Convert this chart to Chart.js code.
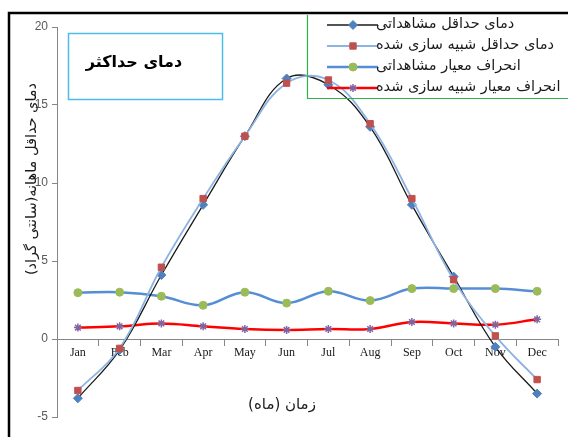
<!DOCTYPE html>
<html>
<head>
<meta charset="utf-8">
<script src="https://cdn.jsdelivr.net/npm/chart.js@4.4.1/dist/chart.umd.min.js"></script>
<style>
  html, body { margin: 0; padding: 0; background: #fff; }
  #wrap { width: 568px; height: 437px; position: relative; }
</style>
</head>
<body>
<div id="wrap"><canvas id="c" width="568" height="437"></canvas></div>
<script>
const months = ['Jan', 'Feb', 'Mar', 'Apr', 'May', 'Jun', 'Jul', 'Aug', 'Sep', 'Oct', 'Nov', 'Dec'];
const obsMin = [-3.8, -0.7, 4.1, 8.6, 13.0, 16.7, 16.3, 13.6, 8.6, 4.0, -0.5, -3.5];
const simMin = [-3.3, -0.6, 4.6, 9.0, 13.0, 16.4, 16.6, 13.8, 9.0, 3.8, 0.2, -2.6];
const obsStd = [2.97, 3.0, 2.74, 2.16, 3.0, 2.3, 3.06, 2.46, 3.23, 3.23, 3.23, 3.06];
const simStd = [0.73, 0.81, 1.0, 0.81, 0.64, 0.58, 0.64, 0.64, 1.09, 1.0, 0.92, 1.26];
const yTicks = [-5, 0, 5, 10, 15, 20];
const seriesNames = ['دمای حداقل مشاهداتی', 'دمای حداقل شبیه سازی شده', 'انحراف معیار مشاهداتی', 'انحراف معیار شبیه سازی شده'];
const chartTitle = 'دمای حداکثر';
const yTitle = 'دمای حداقل ماهانه(سانتی گراد)';
const xTitle = 'زمان (ماه)';

const persianFont = "'DejaVu Sans', sans-serif";

const styles = [
  { line: '#1a1a1a', lw: 1.3, pt: 'rectRot', pc: '#4f81bd', r: 4.5 },
  { line: '#8db3e2', lw: 1.8, pt: 'rect', pc: '#c0504d', r: 4.5 },
  { line: '#558ed5', lw: 2.5, pt: 'circle', pc: '#9bbb59', r: 4 },
  { line: '#ff0000', lw: 2.5, pt: 'star', pc: '#8064a2', r: 4 }
];
const seriesData = [obsMin, simMin, obsStd, simStd];
const orders = [1, 0, 2, 3];

const datasets = seriesData.map((d, i) => ({
  label: seriesNames[i],
  data: d,
  borderColor: styles[i].line,
  borderWidth: styles[i].lw,
  pointStyle: styles[i].pt,
  pointRadius: styles[i].r,
  pointBackgroundColor: styles[i].pc,
  pointBorderColor: styles[i].pc,
  pointBorderWidth: styles[i].pt === 'star' ? 1.5 : 1,
  tension: 0.4,
  fill: false,
  order: orders[i]
}));

const decor = {
  id: 'decor',
  afterDraw(chart) {
    const ctx = chart.ctx;
    ctx.save();
    // outer frame
    ctx.strokeStyle = '#000';
    ctx.lineWidth = 2.5;
    ctx.beginPath();
    ctx.moveTo(9, 437);
    ctx.lineTo(9, 13);
    ctx.lineTo(568, 13);
    ctx.stroke();

    // title box
    ctx.strokeStyle = '#4bbde8';
    ctx.lineWidth = 1.5;
    ctx.strokeRect(68.5, 33.5, 154, 66);
    ctx.fillStyle = '#000';
    ctx.font = 'bold 16px ' + persianFont;
    ctx.textAlign = 'center';
    ctx.textBaseline = 'middle';
    ctx.direction = 'rtl';
    ctx.fillText(chartTitle, 134, 63);

    // legend box
    ctx.strokeStyle = '#2eb24a';
    ctx.lineWidth = 1.2;
    ctx.beginPath();
    ctx.moveTo(307.5, 15);
    ctx.lineTo(307.5, 98.5);
    ctx.lineTo(568, 98.5);
    ctx.stroke();

    const rowsY = [25, 46, 67, 88];
    for (let i = 0; i < 4; i++) {
      const y = rowsY[i];
      ctx.strokeStyle = styles[i].line;
      ctx.lineWidth = styles[i].lw;
      ctx.beginPath();
      ctx.moveTo(327, y);
      ctx.lineTo(378, y);
      ctx.stroke();
      ctx.fillStyle = styles[i].pc;
      ctx.strokeStyle = styles[i].pc;
      ctx.lineWidth = styles[i].pt === 'star' ? 1.5 : 1;
      Chart.helpers.drawPoint(ctx, {
        pointStyle: styles[i].pt, radius: styles[i].r, rotation: 0,
        borderWidth: ctx.lineWidth
      }, 353, y);
      ctx.fillStyle = '#1a1a1a';
      ctx.font = '14.5px ' + persianFont;
      ctx.direction = 'rtl';
      ctx.textAlign = 'left';
      ctx.textBaseline = 'middle';
      ctx.fillText(seriesNames[i], 376, y - 1);
    }

    // y title
    ctx.save();
    ctx.translate(32, 179);
    ctx.rotate(-Math.PI / 2);
    ctx.font = '14.5px ' + persianFont;
    ctx.fillStyle = '#1a1a1a';
    ctx.textAlign = 'center';
    ctx.textBaseline = 'middle';
    ctx.direction = 'rtl';
    ctx.fillText(yTitle, 0, 0);
    ctx.restore();

    // x title
    ctx.font = '15px ' + persianFont;
    ctx.fillStyle = '#1a1a1a';
    ctx.textAlign = 'center';
    ctx.textBaseline = 'middle';
    ctx.direction = 'rtl';
    ctx.fillText(xTitle, 282, 405);
    ctx.restore();
  }
};

new Chart(document.getElementById('c'), {
  type: 'line',
  data: { labels: months, datasets },
  options: {
    responsive: false,
    animation: false,
    events: [],
    layout: { padding: { top: 27, right: 10, bottom: 20, left: 8 } },
    plugins: { legend: { display: false }, tooltip: { enabled: false } },
    scales: {
      x: {
        type: 'category',
        offset: true,
        position: { y: 0 },
        grid: { display: true, drawOnChartArea: false, drawTicks: true, tickLength: 6, color: '#868686', offset: true },
        border: { display: true, color: '#868686', width: 1 },
        ticks: { color: '#1a1a1a', font: { family: "'Liberation Serif', 'Times New Roman', serif", size: 12 }, padding: 1, maxRotation: 0, autoSkip: false }
      },
      y: {
        min: -5, max: 20,
        afterFit(s) { s.width = 49; },
        afterBuildTicks(s) { s.ticks = yTicks.map(v => ({ value: v })); },
        grid: { display: true, drawOnChartArea: false, drawTicks: true, tickLength: 5, color: '#868686' },
        border: { display: true, color: '#868686', width: 1 },
        ticks: { color: '#595959', font: { family: "'Liberation Sans', Arial, sans-serif", size: 12 }, padding: 4 }
      }
    }
  },
  plugins: [decor]
});
</script>
</body>
</html>
